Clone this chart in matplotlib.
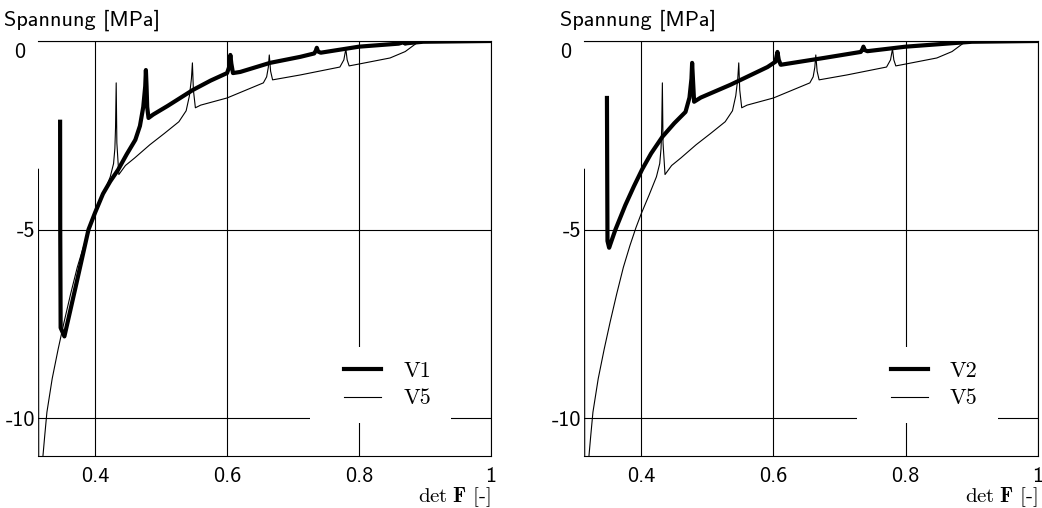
import numpy as np
import matplotlib
matplotlib.use('Agg')
import matplotlib.pyplot as plt
from matplotlib.patches import Rectangle
from matplotlib.transforms import ScaledTranslation

plt.rcParams['mathtext.fontset'] = 'cm'
plt.rcParams['axes.unicode_minus'] = False

# V5 (thin line, same in both panels)
v5_x = [0.3142, 0.3146, 0.3170, 0.3200, 0.3235, 0.3270, 0.3350, 0.3440, 0.3530,
        0.3630, 0.3730, 0.3830, 0.3920, 0.4000, 0.4120, 0.4230, 0.4280, 0.4300,
        0.4310, 0.4320, 0.4330, 0.4360, 0.4460, 0.4600, 0.4830, 0.5050, 0.5270,
        0.5380, 0.5430, 0.5460, 0.5475, 0.5490, 0.5520, 0.5600, 0.6000, 0.6550,
        0.6600, 0.6625, 0.6640, 0.6660, 0.6690, 0.7110, 0.7710, 0.7770, 0.7800,
        0.7820, 0.7850, 0.8000, 0.8470, 0.8700, 0.8870, 0.9030, 0.9500, 1.0000]
v5_y = [-3.40, -11.0, -11.6, -11.2, -10.5, -9.84, -8.95, -8.17, -7.45,
        -6.70, -6.00, -5.42, -4.95, -4.58, -4.08, -3.60, -3.25, -2.85,
        -2.30, -1.11, -2.70, -3.54, -3.30, -3.10, -2.75, -2.45, -2.14,
        -1.85, -1.45, -1.00, -0.58, -1.30, -1.77, -1.70, -1.51, -1.11,
        -0.95, -0.70, -0.37, -0.80, -1.03, -0.90, -0.69, -0.50, -0.21,
        -0.50, -0.66, -0.61, -0.45, -0.28, -0.06, 0.00, 0.00, 0.00]

# V1 (thick, left panel)
v1_x = [0.3470, 0.3472, 0.3478, 0.3535, 0.3700, 0.3900, 0.4000, 0.4120, 0.4230,
        0.4350, 0.4480, 0.4610, 0.4680, 0.4730, 0.4760, 0.4770, 0.4780, 0.4790,
        0.4810, 0.4880, 0.5100, 0.5480, 0.5750, 0.6000, 0.6030, 0.6050, 0.6065,
        0.6090, 0.6200, 0.6650, 0.7110, 0.7320, 0.7345, 0.7360, 0.7380, 0.7420,
        0.8000, 0.8600, 0.8680, 0.8700, 0.8720, 0.8970, 1.0000]
v1_y = [-2.14, -5.00, -7.60, -7.83, -6.56, -5.00, -4.55, -4.05, -3.72,
        -3.41, -3.00, -2.62, -2.25, -1.75, -1.20, -0.77, -1.20, -1.75,
        -2.04, -1.95, -1.72, -1.30, -1.05, -0.85, -0.70, -0.37, -0.60,
        -0.85, -0.82, -0.58, -0.42, -0.33, -0.26, -0.18, -0.28, -0.31,
        -0.15, -0.07, -0.03, -0.07, -0.06, -0.02, 0.00]

# V2 (thick, right panel)
v2_x = [0.3482, 0.3486, 0.3490, 0.3515, 0.3610, 0.3760, 0.3890, 0.4015, 0.4150,
        0.4320, 0.4500, 0.4670, 0.4730, 0.4760, 0.4770, 0.4785, 0.4800, 0.4900,
        0.5350, 0.5910, 0.6030, 0.6060, 0.6080, 0.6110, 0.6760, 0.7320, 0.7345,
        0.7360, 0.7380, 0.7420, 0.8000, 0.9000, 1.0000]
v2_y = [-1.51, -3.50, -5.30, -5.48, -5.00, -4.35, -3.85, -3.40, -2.98,
        -2.54, -2.18, -1.88, -1.50, -1.00, -0.58, -1.10, -1.61, -1.50,
        -1.16, -0.69, -0.55, -0.29, -0.50, -0.63, -0.45, -0.29, -0.22,
        -0.15, -0.24, -0.27, -0.15, -0.02, 0.00]

x_ticks = [0.4, 0.6, 0.8, 1.0]
x_ticklabels = ['0.4', '0.6', '0.8', '1']
y_ticks = [0, -5, -10]
y_ticklabels = ['0', '-5', '-10']

W, H = 1042, 508
fig = plt.figure(figsize=(W / 100, H / 100), dpi=100)
ax1 = fig.add_axes([38 / W, (H - 456) / H, 453 / W, 415 / H])
ax2 = fig.add_axes([584 / W, (H - 456) / H, 454 / W, 415 / H])

sans = ['cmss10', 'DejaVu Sans']
serif = ['cmr10', 'DejaVu Serif']

for ax, (tx, ty, name), ylab_x in [(ax1, (v1_x, v1_y, 'V1'), 4),
                                   (ax2, (v2_x, v2_y, 'V2'), 560)]:
    ax.plot(tx, ty, color='black', lw=3.0, label=name, solid_joinstyle='round', zorder=3)
    ax.plot(v5_x, v5_y, color='black', lw=0.8, label='V5', zorder=3)
    ax.set_xlim(0.3135, 1.0)
    ax.set_ylim(-11, 0)
    ax.set_xticks(x_ticks)
    ax.set_xticklabels(x_ticklabels, fontfamily=sans, fontsize=16)
    ax.set_yticks(y_ticks)
    ax.set_yticklabels(y_ticklabels, fontfamily=sans, fontsize=16)
    ax.tick_params(length=0)
    ax.tick_params(axis='x', pad=8)
    ax.tick_params(axis='y', pad=2)
    ax.grid(True, color='black', lw=0.8)
    ax.set_axisbelow(True)
    ax.spines['left'].set_visible(False)
    for s in ['top', 'right', 'bottom']:
        ax.spines[s].set_linewidth(0.8)
    # the "0" label sits lower and further left
    lbl = ax.get_yticklabels()[0]
    lbl.set_transform(lbl.get_transform() + ScaledTranslation(-0.10, -0.09, fig.dpi_scale_trans))
    # white box behind the legend, hides the grid there
    ax.add_patch(Rectangle((272 / 453, 33 / 415), 141 / 453, 76 / 415, transform=ax.transAxes,
                           facecolor='white', edgecolor='none', zorder=1.5))
    ax.legend(loc='center', bbox_to_anchor=(0.7715, 0.171), frameon=False,
              prop={'family': serif, 'size': 16}, handlelength=1.67,
              handletextpad=1.0, labelspacing=0.35, borderpad=0.3)
    ax.text(1.0, -0.099, r'$\det\,\mathbf{F}$ [-]', transform=ax.transAxes,
            ha='right', va='center', fontsize=15, fontfamily=serif)
    fig.text(ylab_x / W, (H - 20) / H, 'Spannung [MPa]', ha='left', va='center',
             fontsize=16, fontfamily=sans)

fig.savefig('out.png', dpi=100)
